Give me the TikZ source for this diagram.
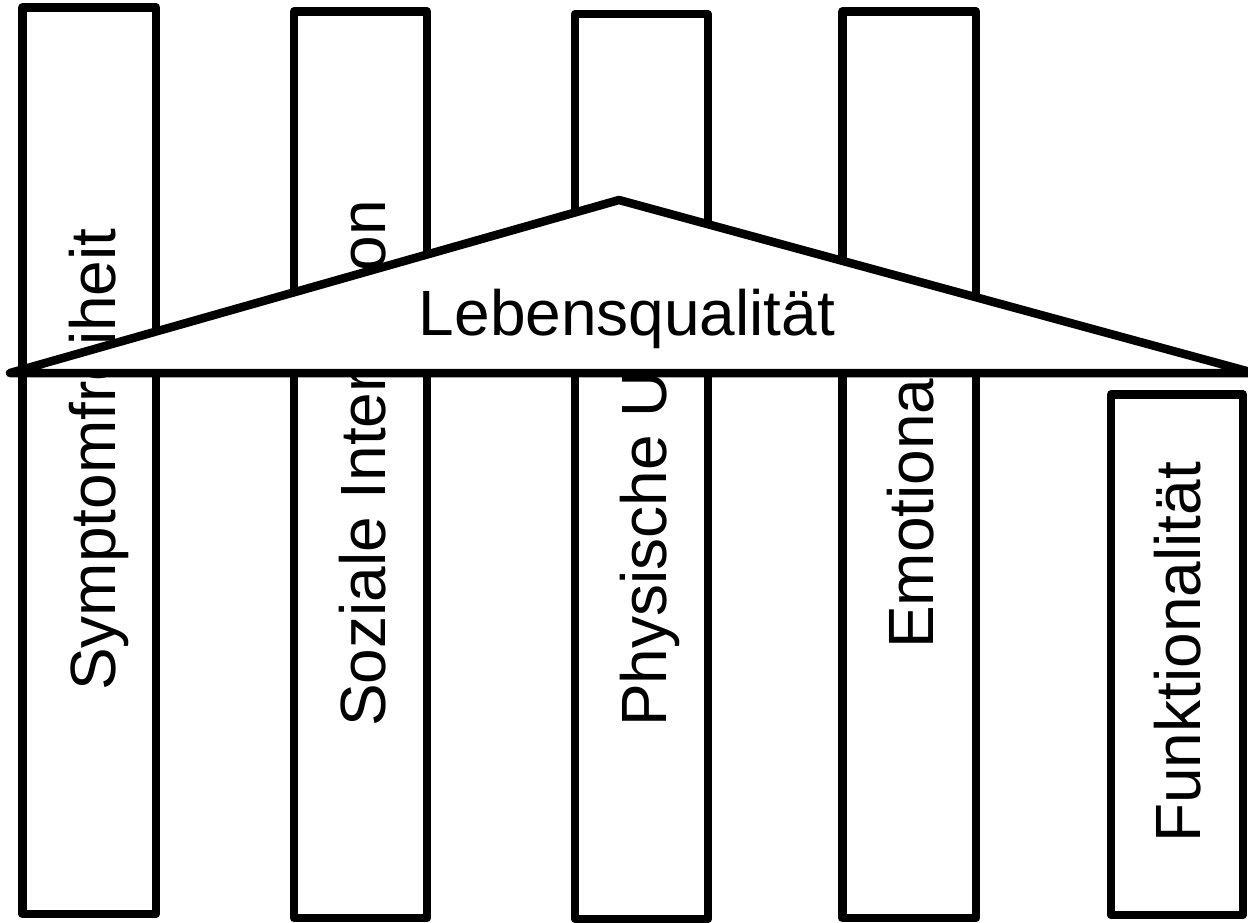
\documentclass[tikz,border=0pt]{standalone}
\usepackage{fontspec}
\setmainfont{Liberation Sans}
\tikzset{
  pillar/.style={draw, line width=8.5pt, fill=white, line join=round, inner sep=0pt, rectangle},
  ptext/.style={rotate=90, anchor=base west, inner sep=0pt, font=\fontsize{64}{77}\selectfont},
  roof/.style={draw, line width=8.5pt, fill=white, line join=round, line cap=round},
  rtext/.style={anchor=base, inner sep=0pt, font=\fontsize{64}{77}\selectfont}
}
\begin{document}
\begin{tikzpicture}[x=1pt, y=-1pt]
\useasboundingbox (0,0) rectangle (1248,922);
% pillars
\node[pillar, minimum width=133.5pt, minimum height=906.5pt] (p1) at (89.25,460.75) {};
\node[pillar, minimum width=133pt, minimum height=906.5pt] (p2) at (360.5,464.75) {};
\node[pillar, minimum width=133pt, minimum height=905pt] (p3) at (641.5,466.5) {};
\node[pillar, minimum width=133.5pt, minimum height=906.5pt] (p4) at (909.25,464.75) {};
\node[pillar, minimum width=132pt, minimum height=520.5pt] (p5) at (1177,654.75) {};
% pillar labels
\node[ptext] (t1) at (115,691) {Symptomfreiheit};
\node[ptext] (t2) at (385,727) {Soziale Interaktion};
\node[ptext] (t3) at (666,727) {Physische U};
\node[ptext] (t4) at (933,649) {Emotiona};
\node[ptext] (t5) at (1200,843) {Funktionalität};
% roof
\coordinate (L) at (10,373);
\coordinate (A) at (619,200);
\coordinate (R) at (1254,373);
\path[roof] (L) -- (A) -- (R) -- cycle;
\node[rtext] (lq) at (627,335) {Lebensqualität};
\end{tikzpicture}
\end{document}
